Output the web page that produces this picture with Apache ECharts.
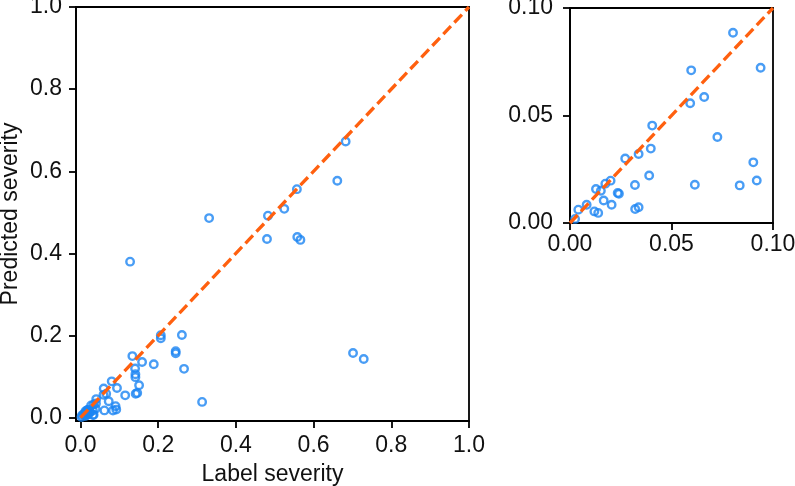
<!DOCTYPE html>
<html>
<head>
<meta charset="utf-8">
<script src="https://cdn.jsdelivr.net/npm/echarts@6/dist/echarts.min.js"></script>
<style>html,body{margin:0;padding:0;background:#fff}#c{width:795px;height:486px}</style>
</head>
<body>
<div id="c"></div>
<script>
// Label severity (x) and predicted severity (y) of each sample
const labelSeverity = [
  0.6825, 0.661, 0.557, 0.5245, 0.4825, 0.331, 0.480, 0.558, 0.566, 0.1276,
  0.2067, 0.2067, 0.261, 0.245, 0.245, 0.1335, 0.1585, 0.1886, 0.1405, 0.2665,
  0.1413, 0.1413, 0.1508, 0.1150, 0.142, 0.146, 0.7015, 0.729, 0.313,
  0.0803, 0.0597, 0.0939, 0.0592, 0.0661, 0.0405, 0.0398, 0.0726, 0.0338, 0.0272,
  0.0390, 0.0320, 0.0615, 0.0903, 0.0920, 0.0836, 0.0200, 0.0174, 0.0128, 0.0152,
  0.0235, 0.0241, 0.0166, 0.0205, 0.0082, 0.0321, 0.0338, 0.0120, 0.0139, 0.0041,
  0.0025
];
const predictedSeverity = [
  0.6725, 0.577, 0.5565, 0.5085, 0.492, 0.486, 0.435, 0.440, 0.433, 0.380,
  0.2008, 0.1935, 0.2015, 0.162, 0.157, 0.150, 0.1357, 0.130, 0.120, 0.119,
  0.1057, 0.0988, 0.079, 0.0545, 0.0585, 0.060, 0.1576, 0.143, 0.0385,
  0.0885, 0.0710, 0.0722, 0.0557, 0.0586, 0.0453, 0.0346, 0.0400, 0.0321, 0.0300,
  0.0221, 0.0177, 0.0178, 0.0282, 0.0198, 0.0175, 0.0197, 0.0183, 0.0158, 0.0150,
  0.0140, 0.0136, 0.0105, 0.0085, 0.0085, 0.0065, 0.0073, 0.0054, 0.0047, 0.0062,
  0.0019
];
const mainTicks = [0, 0.2, 0.4, 0.6, 0.8, 1.0];
const insetTicks = [0, 0.05, 0.10];
const mainDiagonal = [[0, 0], [1, 1]];
const insetDiagonal = [[0, 0], [0.1, 0.1]];

const points = labelSeverity.map((x, i) => [x, predictedSeverity[i]]);
const FONT = 'Liberation Sans, Arial, sans-serif';
const lineStyle = {color: '#000', width: 1.8};
const labelStyle = {color: '#111', fontSize: 23, fontFamily: FONT};

function axis(gridIndex, min, max, ticks, digits, margin, extra) {
  return Object.assign({
    gridIndex, type: 'value', min, max,
    axisLine: {show: true, onZero: false, lineStyle},
    axisTick: {show: true, inside: false, length: 7, customValues: ticks, lineStyle},
    axisLabel: Object.assign({customValues: ticks, margin, formatter: v => v.toFixed(digits)}, labelStyle),
    splitLine: {show: false}
  }, extra || {});
}

const chart = echarts.init(document.getElementById('c'), null, {renderer: 'canvas'});
const scatterStyle = {color: 'rgba(0,0,0,0)', borderColor: '#1c84f2', borderWidth: 2.4};
const diagStyle = {color: '#ff600f', width: 3.3, type: [11, 5]};
chart.setOption({
  animation: false,
  backgroundColor: '#fff',
  grid: [
    {left: 76, top: 7, width: 393, height: 414, show: true, borderColor: '#000', borderWidth: 1.8, containLabel: false, outerBoundsMode: 'none'},
    {left: 570, top: 8, width: 203, height: 215, show: true, borderColor: '#000', borderWidth: 1.8, containLabel: false, outerBoundsMode: 'none'}
  ],
  xAxis: [
    axis(0, -0.0116, 1, mainTicks, 1, 13, {name: 'Label severity', nameLocation: 'middle', nameGap: 42, nameTextStyle: labelStyle}),
    axis(1, 0, 0.1, insetTicks, 2, 10)
  ],
  yAxis: [
    axis(0, -0.008, 1, mainTicks, 1, 14, {name: 'Predicted severity', nameLocation: 'middle', nameGap: 54, nameTextStyle: labelStyle}),
    axis(1, 0, 0.1, insetTicks, 2, 17)
  ],
  series: [
    {type: 'scatter', xAxisIndex: 0, yAxisIndex: 0, data: points, symbol: 'circle', symbolSize: 7.5, itemStyle: scatterStyle, clip: true, z: 2},
    {type: 'line', xAxisIndex: 0, yAxisIndex: 0, data: mainDiagonal, symbol: 'none', lineStyle: diagStyle, z: 3},
    {type: 'scatter', xAxisIndex: 1, yAxisIndex: 1, data: points, symbol: 'circle', symbolSize: 7.5, itemStyle: scatterStyle, clip: true, z: 2},
    {type: 'line', xAxisIndex: 1, yAxisIndex: 1, data: insetDiagonal, symbol: 'none', lineStyle: diagStyle, z: 3}
  ]
});
</script>
</body>
</html>
